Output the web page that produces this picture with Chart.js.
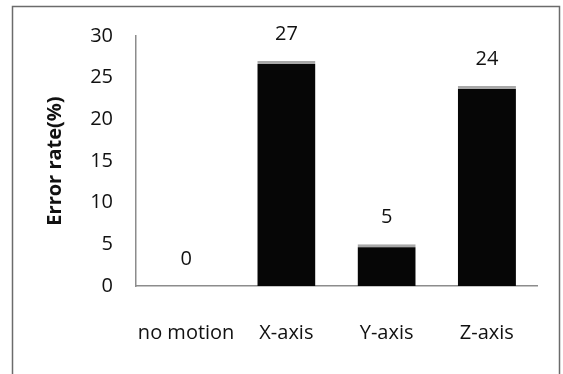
<!DOCTYPE html>
<html>
<head>
<meta charset="utf-8">
<script src="https://cdn.jsdelivr.net/npm/chart.js@4"></script>
<style>
  html, body { margin: 0; padding: 0; background: #fff; }
  #wrap { width: 563px; height: 374px; position: relative; }
</style>
</head>
<body>
<div id="wrap"><canvas id="errorChart"></canvas></div>
<script>
const categories = ['no motion', 'X-axis', 'Y-axis', 'Z-axis'];
const errorRates = [0, 27, 5, 24];
const yTicks = [0, 5, 10, 15, 20, 25, 30];

const FONT = '"Open Sans", "Noto Sans", sans-serif';

// thin frame round the whole figure (bottom edge runs off the picture)
const framePlugin = {
  id: 'frame',
  beforeDraw(chart) {
    const ctx = chart.ctx;
    ctx.save();
    ctx.strokeStyle = '#6b6b6b';
    ctx.lineWidth = 1.5;
    ctx.beginPath();
    ctx.moveTo(12.5, 380);
    ctx.lineTo(12.5, 6.5);
    ctx.lineTo(559.5, 6.5);
    ctx.lineTo(559.5, 380);
    ctx.stroke();
    ctx.restore();
  }
};

// value written above every bar
const valueLabels = {
  id: 'valueLabels',
  afterDatasetsDraw(chart) {
    const ctx = chart.ctx;
    const meta = chart.getDatasetMeta(0);
    ctx.save();
    ctx.font = '20px ' + FONT;
    ctx.fillStyle = '#111';
    ctx.textAlign = 'center';
    ctx.textBaseline = 'middle';
    meta.data.forEach((bar, i) => {
      ctx.fillText(String(errorRates[i]), bar.x, bar.y - 27);
    });
    ctx.restore();
  }
};

const chart = new Chart(document.getElementById('errorChart'), {
  type: 'bar',
  data: {
    labels: categories,
    datasets: [{
      data: errorRates,
      backgroundColor: '#060606',
      borderColor: '#a8a8a8',
      borderWidth: { top: 3, left: 0, right: 0, bottom: 0 },
      borderSkipped: false,
      barPercentage: 0.58,
      categoryPercentage: 1
    }]
  },
  options: {
    responsive: true,
    maintainAspectRatio: false,
    animation: false,
    layout: { padding: { top: 36, right: 26, bottom: 28, left: 0 } },
    plugins: {
      legend: { display: false },
      tooltip: { enabled: false }
    },
    scales: {
      x: {
        grid: { display: false, drawTicks: false },
        border: { display: true, color: '#8c8c8c', width: 1.5 },
        ticks: { color: '#111', font: { family: FONT, size: 20 }, padding: 35, maxRotation: 0 },
        afterFit(scale) { scale.height = 60; }
      },
      y: {
        min: 0,
        max: 30,
        afterBuildTicks(scale) { scale.ticks = yTicks.map(v => ({ value: v })); },
        grid: { display: false, drawTicks: false },
        border: { display: true, color: '#8c8c8c', width: 1.5 },
        ticks: { color: '#111', font: { family: FONT, size: 20 }, padding: 23 },
        title: {
          display: true,
          text: 'Error rate(%)',
          color: '#111',
          font: { family: FONT, size: 20, weight: 'bold' },
          padding: { top: 43, bottom: 0 }
        },
        afterFit(scale) { scale.width = 136; }
      }
    }
  },
  plugins: [framePlugin, valueLabels]
});
</script>
</body>
</html>
